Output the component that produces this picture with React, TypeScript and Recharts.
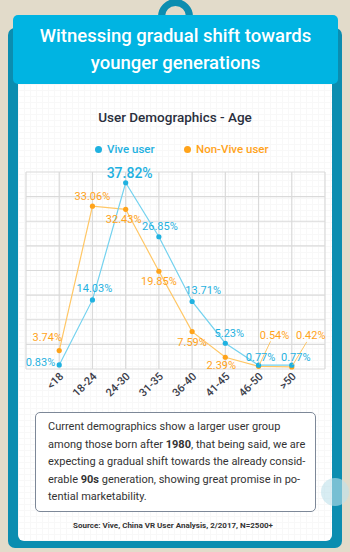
import { LineChart, Line, XAxis, YAxis, CartesianGrid, LabelList } from "recharts";

const ageGroups = ["<18", "18-24", "24-30", "31-35", "36-40", "41-45", "46-50", ">50"];
const viveShare = [0.83, 14.03, 37.82, 26.85, 13.71, 5.23, 0.77, 0.77];
const nonViveShare = [3.74, 33.06, 32.43, 19.85, 7.59, 2.39, 0.54, 0.42];
const gridTicks = [0, 5, 10, 15, 20, 25, 30, 35, 40];

const rows = ageGroups.map((age, i) => ({ age, vive: viveShare[i], nonVive: nonViveShare[i] }));

const BLUE = "#1fb1e0";
const BLUE_LINE = "#74d2ef";
const ORANGE = "#ffa31a";
const ORANGE_LINE = "#ffc766";
const TEAL = "#0b8db0";
const FONT = "Roboto, 'Noto Sans', sans-serif";

const PLOT_LEFT = 26;
const PLOT_W = 299;

// label placement relative to each point: dx, dy, anchor
const viveLabelPos: [number, number, string][] = [
  [-4, -2, "end"], [2, -11, "middle"], [4, -10, "middle"], [1, -10, "middle"],
  [11, -11, "middle"], [4, -10, "middle"], [2, -8, "middle"], [4, -8, "middle"],
];
const nonViveLabelPos: [number, number, string][] = [
  [-12, -13, "middle"], [0, -10, "middle"], [-2, 10, "middle"], [0, 10, "middle"],
  [0, 11, "middle"], [-4, 8, "middle"], [16, -31, "middle"], [19, -31, "middle"],
];

const makeLabel = (pos: [number, number, string][], color: string, leader: boolean) => (props: any) => {
  const x = props.x ?? props.viewBox?.x;
  const y = props.y ?? props.viewBox?.y;
  const i = props.index;
  if (x == null || y == null || i == null) return null;
  const [dx, dy, anchor] = pos[i];
  const big = !leader && i === 2;
  return (
    <g>
      {leader && dy < -20 && (
        <line x1={x + 1} y1={y - 2} x2={x + dx - 4} y2={y + dy + 6} stroke={ORANGE_LINE} strokeWidth={1} />
      )}
      <text
        x={x + dx}
        y={y + dy}
        textAnchor={anchor}
        dominantBaseline="central"
        fill={color}
        fontSize={big ? 14 : 11}
        fontFamily={FONT}
        fontWeight={big ? 500 : 400}
      >
        {`${Number(props.value).toFixed(2)}%`}
      </text>
    </g>
  );
};

const AgeTick = (props: any) => {
  const { x, y, payload } = props;
  const tx = x + 5;
  const ty = y;
  return (
    <text
      x={tx}
      y={ty}
      transform={`rotate(-45 ${tx} ${ty})`}
      textAnchor="end"
      fill="#3b3d4a"
      fontSize={11}
      fontWeight={500}
      fontFamily={FONT}
    >
      {payload.value}
    </text>
  );
};

export default function App() {
  return (
    <div
      style={{
        position: "absolute",
        left: 0,
        top: 0,
        width: 350,
        height: 552,
        background: "#e2dbca",
        overflow: "hidden",
        fontFamily: FONT,
      }}
    >
      {/* hanger ring */}
      <div
        style={{
          position: "absolute",
          left: 158,
          top: -1,
          width: 21,
          height: 21,
          border: `7px solid ${TEAL}`,
          borderRadius: "50%",
        }}
      />
      {/* outer frame */}
      <div
        style={{
          position: "absolute",
          left: 8,
          top: 28,
          width: 334,
          height: 520,
          background: TEAL,
          borderRadius: 7,
        }}
      />
      {/* header */}
      <div
        style={{
          position: "absolute",
          left: 13,
          top: 15,
          width: 325,
          height: 69,
          background: "#00b4e2",
          borderRadius: 5,
          color: "#fff",
          fontSize: 18.5,
          fontWeight: 500,
          lineHeight: "27px",
          textAlign: "center",
          paddingTop: 8,
          boxSizing: "border-box",
        }}
      >
        Witnessing gradual shift towards
        <br />
        younger generations
      </div>
      {/* white panel */}
      <div
        style={{
          position: "absolute",
          left: 18,
          top: 84,
          width: 314,
          height: 457,
          background: "#fff",
          backgroundImage:
            "linear-gradient(#f8f8f8 1px, transparent 1px), linear-gradient(90deg, #f8f8f8 1px, transparent 1px)",
          backgroundSize: "6px 6px",
          borderRadius: "0 0 6px 6px",
        }}
      />
      <div
        style={{
          position: "absolute",
          left: 0,
          top: 107,
          width: 350,
          textAlign: "center",
          fontSize: 13.5,
          fontWeight: 500,
          color: "#2a2f3d",
          lineHeight: "20px",
        }}
      >
        User Demographics - Age
      </div>
      {/* legend */}
      <div style={{ position: "absolute", left: 95, top: 146, width: 7, height: 7, borderRadius: "50%", background: BLUE }} />
      <div style={{ position: "absolute", left: 107, top: 141, fontSize: 11.5, fontWeight: 500, color: BLUE, lineHeight: "16px" }}>
        Vive user
      </div>
      <div style={{ position: "absolute", left: 184, top: 146, width: 7, height: 7, borderRadius: "50%", background: ORANGE }} />
      <div style={{ position: "absolute", left: 196, top: 141, fontSize: 11.5, fontWeight: 500, color: ORANGE, lineHeight: "16px" }}>
        Non-Vive user
      </div>

      <div style={{ position: "absolute", left: 0, top: 160 }}>
        <LineChart width={350} height={240} data={rows} margin={{ top: 12, right: 350 - PLOT_LEFT - PLOT_W, bottom: 0, left: PLOT_LEFT }}>
          <CartesianGrid
            stroke="#dadada"
            strokeWidth={1.2}
            verticalCoordinatesGenerator={() => Array.from({ length: 10 }, (_, i) => PLOT_LEFT + (i * PLOT_W) / 9)}
          />
          <XAxis
            dataKey="age"
            padding={{ left: PLOT_W / 9, right: PLOT_W / 9 }}
            axisLine={false}
            tickLine={false}
            height={31}
            interval={0}
            tick={<AgeTick />}
          />
          <YAxis hide domain={[0, 40]} ticks={gridTicks} />
          <Line
            dataKey="nonVive"
            stroke={ORANGE_LINE}
            strokeWidth={1.2}
            dot={{ r: 2.6, fill: ORANGE, stroke: "none" }}
            activeDot={false}
            isAnimationActive={false}
          >
            <LabelList dataKey="nonVive" content={makeLabel(nonViveLabelPos, ORANGE, true)} />
          </Line>
          <Line
            dataKey="vive"
            stroke={BLUE_LINE}
            strokeWidth={1.2}
            dot={{ r: 2.6, fill: BLUE, stroke: "none" }}
            activeDot={false}
            isAnimationActive={false}
          >
            <LabelList dataKey="vive" content={makeLabel(viveLabelPos, BLUE, false)} />
          </Line>
        </LineChart>
      </div>

      {/* note box */}
      <div
        style={{
          position: "absolute",
          left: 35,
          top: 412,
          width: 281,
          height: 100,
          border: "1px solid #7d8898",
          borderRadius: 5,
          background: "#fff",
          boxSizing: "border-box",
          padding: "5px 0 0 12px",
          fontSize: 11,
          lineHeight: "17.5px",
          color: "#333",
          whiteSpace: "nowrap",
        }}
      >
        Current demographics show a larger user group
        <br />
        among those born after <b>1980</b>, that being said, we are
        <br />
        expecting a gradual shift towards the already consid-
        <br />
        erable <b>90s</b> generation, showing great promise in po-
        <br />
        tential marketability.
      </div>
      <div
        style={{
          position: "absolute",
          left: 321,
          top: 478,
          width: 28,
          height: 28,
          borderRadius: "50%",
          background: "rgba(190, 225, 235, 0.6)",
        }}
      />
      <div
        style={{
          position: "absolute",
          left: 0,
          top: 520,
          width: 346,
          textAlign: "center",
          fontSize: 8,
          fontWeight: 700,
          color: "#333",
          lineHeight: "12px",
        }}
      >
        Source: Vive, China VR User Analysis, 2/2017, N=2500+
      </div>
    </div>
  );
}
